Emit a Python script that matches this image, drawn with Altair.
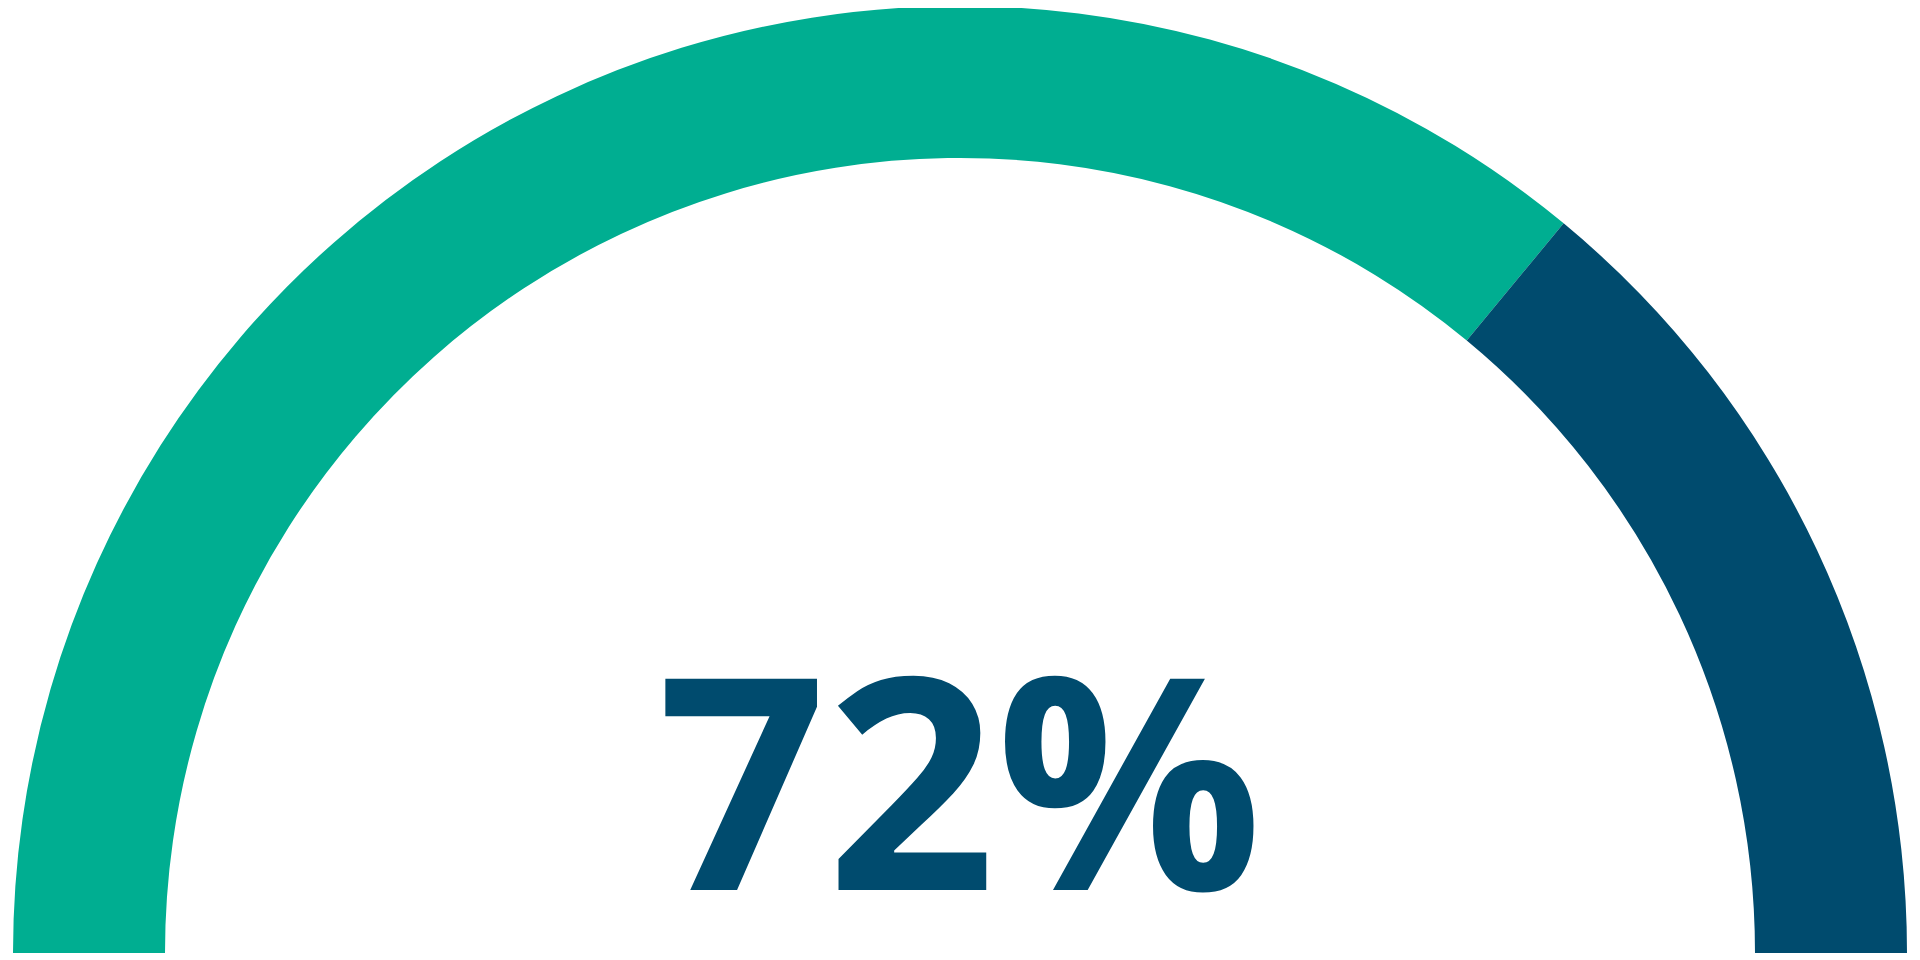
import math
import altair as alt
import pandas as pd

segments = ["Achieved", "Remaining"]
values = [72, 28]
order_idx = [0, 1]
colors = ["#00AE91", "#004B6E"]
label = "72%"

df = pd.DataFrame({"segment": segments, "value": values, "idx": order_idx})

W, H = 1904, 945
CX, CY = 952, 945

arc = alt.Chart(df).mark_arc(radius=947, radius2=795, stroke=None).encode(
    theta=alt.Theta("value:Q", stack=True,
                    scale=alt.Scale(domain=[0, 100], range=[-math.pi / 2, math.pi / 2])),
    color=alt.Color("segment:N", scale=alt.Scale(domain=segments, range=colors), legend=None),
    order=alt.Order("idx:Q"),
    x=alt.value(CX),
    y=alt.value(CY),
)

txt = alt.Chart(pd.DataFrame({"label": [label]})).mark_text(
    font="Open Sans", fontWeight="bold", fontSize=296, color="#004B6E",
    align="center", baseline="alphabetic",
).encode(text="label:N", x=alt.value(CX), y=alt.value(882))

chart = alt.layer(arc, txt).properties(
    width=W, height=H, padding=0,
    autosize=alt.AutoSizeParams(type="none"),
).configure_view(stroke=None)

chart.save("out.html", embed_options={"renderer": "svg", "actions": False})
